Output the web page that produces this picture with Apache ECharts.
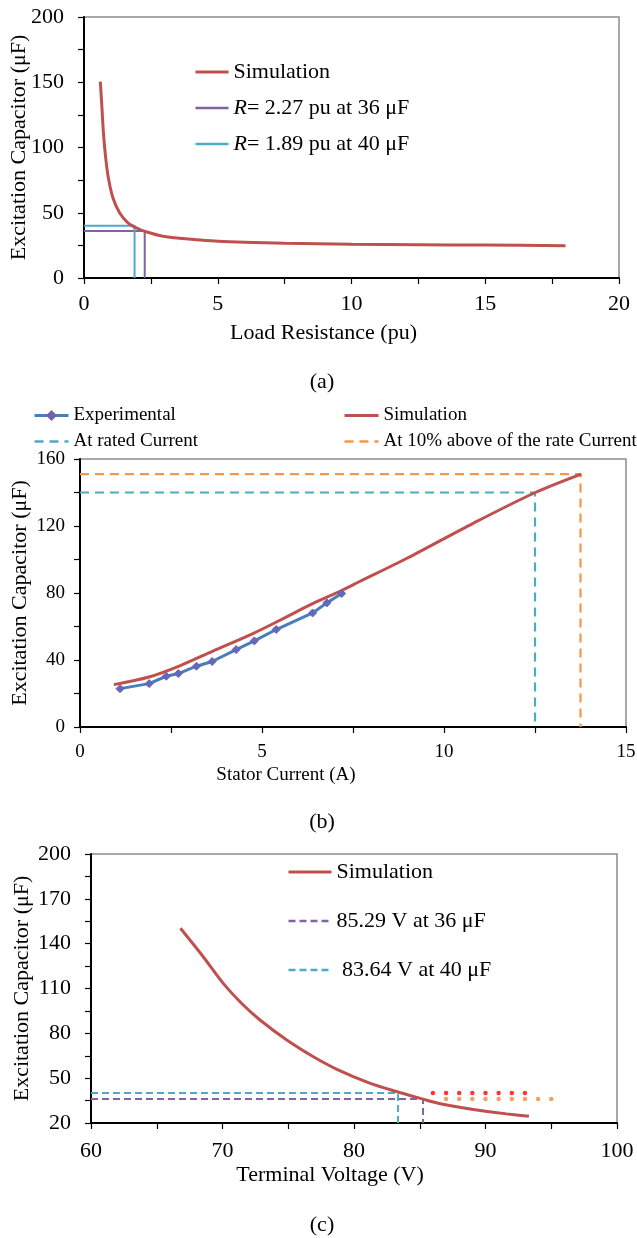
<!DOCTYPE html>
<html><head><meta charset="utf-8">
<script src="https://cdn.jsdelivr.net/npm/echarts@6/dist/echarts.min.js"></script>
<style>html,body{margin:0;padding:0;background:#fff}#c{width:637px;height:1238px}</style>
</head><body><div id="c"></div>
<script>
// ---- (a) Load resistance vs capacitor ----
const resA = [0.61, 0.67, 0.73, 0.81, 0.91, 1.08, 1.33, 1.64, 1.95, 2.32, 2.95, 4.19, 5.0, 6.0, 7.5, 10, 12.5, 15, 18];
const capA = [150.5, 130.8, 110.2, 92.3, 76.9, 61.5, 50, 42.3, 38.5, 35.4, 32, 29.3, 28.2, 27.4, 26.6, 25.9, 25.5, 25.2, 24.8];
const r36X = [0, 2.27, 2.27], r36Y = [36, 36, 0];
const r40X = [0, 1.89, 1.89], r40Y = [40, 40, 0];
const ticksA_x = [0, 5, 10, 15, 20];
const ticksA_y = [0, 50, 100, 150, 200];

// ---- (b) Stator current vs capacitor ----
const curExp = [1.10, 1.90, 2.37, 2.70, 3.20, 3.63, 4.29, 4.79, 5.39, 6.39, 6.78, 7.19];
const capExp = [22.9, 25.9, 30.3, 31.9, 36.3, 39.1, 46.2, 51.4, 58.2, 68.1, 74.1, 79.7];
const curSim = [0.93, 1.92, 2.74, 3.65, 4.75, 5.48, 6.39, 7.14, 7.67, 8.97, 10.8, 12.51, 13.77];
const capSim = [25.3, 30.0, 36.5, 45.3, 55.8, 63.6, 73.6, 81.0, 86.7, 100.6, 121.6, 140, 151];
const ratedX = [0, 12.5, 12.5], ratedY = [140, 140, 0];
const aboveX = [0, 13.75, 13.75], aboveY = [151, 151, 0];
const ticksB_x = [0, 5, 10, 15];
const ticksB_y = [0, 40, 80, 120, 160];

// ---- (c) Terminal voltage vs capacitor ----
const voltC = [66.8, 68.52, 70.04, 71.56, 72.83, 74.86, 76.88, 78.66, 81.19, 83.22, 85.25, 86.5, 88, 90, 91.6, 93.3];
const capC = [150.3, 131.4, 113.6, 99.1, 89.1, 75.7, 64.5, 56.1, 46.7, 41.1, 36.0, 33.0, 30.6, 27.9, 26.1, 24.5];
const v36X = [60, 85.25, 85.25], v36Y = [36, 36, 20];
const v40X = [60, 83.35, 83.35], v40Y = [40, 40, 20];
const redDotsX = [86, 87, 88, 89, 90, 91, 92, 93], redDotsY = 40;
const orgDotsX = [87, 88, 89, 90, 91, 92, 93, 94, 95], orgDotsY = 36;
const ticksC_x = [60, 70, 80, 90, 100];
const ticksC_y = [20, 50, 80, 110, 140, 170, 200];
const ticksC_yMinor = [20, 35, 50, 65, 80, 95, 110, 125, 140, 155, 170, 185, 200];

const FF = '"Liberation Serif", "Times New Roman", serif';
const zip = (xs, ys) => xs.map((x, i) => [x, Array.isArray(ys) ? ys[i] : ys]);

const RED = '#C0504D', PURPLE = '#8064A2', CYAN = '#4BACC6', ORANGE = '#F79646', BLUE = '#4A7EBB';

function xAx(gi, min, max, interval, labels, name, fs, margin, nameGap, padR) {
  return {
    gridIndex: gi, type: 'value', min, max, interval,
    axisLine: { onZero: false, lineStyle: { color: '#000', width: 2 } },
    axisTick: { show: true, length: 6, inside: false, lineStyle: { color: '#000', width: 1.2 } },
    splitLine: { show: false },
    axisLabel: { margin, fontSize: fs, color: '#000', fontFamily: FF,
      formatter: v => labels.includes(v) ? String(v) : '' },
    name, nameLocation: 'middle', nameGap, nameMoveOverlap: false,
    nameTextStyle: { fontSize: fs, color: '#000', fontFamily: FF, padding: [0, padR, 0, 0] }
  };
}
function yAx(gi, min, max, interval, labels, name, fs, nfs, margin, nameGap) {
  return {
    gridIndex: gi, type: 'value', min, max, interval,
    axisLine: { show: true, onZero: false, lineStyle: { color: '#000', width: 2 } },
    axisTick: { show: true, length: 6, inside: false, lineStyle: { color: '#000', width: 1.2 } },
    splitLine: { show: false },
    axisLabel: { margin, fontSize: fs, color: '#000', fontFamily: FF,
      formatter: v => labels.includes(v) ? String(v) : '' },
    name, nameLocation: 'middle', nameGap, nameMoveOverlap: false,
    nameTextStyle: { fontSize: nfs, color: '#000', fontFamily: FF }
  };
}

const xC = xAx(2, 60, 100, 5, ticksC_x, 'Terminal Voltage (V)', 22, 17, 41, 48);
const yC = yAx(2, 20, 200, 15, ticksC_y, 'Excitation Capacitor (μF)', 22, 22, 20, 58);
yC.axisTick.customValues = ticksC_yMinor;
yC.axisLabel.customValues = ticksC_y;
yC.axisLabel.formatter = v => String(v);
delete yC.interval;

const gridBase = { show: true, borderColor: '#8c8c8c', borderWidth: 1.5, outerBoundsMode: 'none', containLabel: false };
const noSym = (name, w) => ({ name, itemStyle: { opacity: 0 }, lineStyle: { width: w } });

const option = {
  animation: false,
  backgroundColor: '#fff',
  grid: [
    Object.assign({ left: 84, top: 17, width: 535, height: 261 }, gridBase),
    Object.assign({ left: 80, top: 459, width: 546, height: 268 }, gridBase),
    Object.assign({ left: 91, top: 854, width: 526, height: 269 }, gridBase)
  ],
  xAxis: [
    xAx(0, 0, 20, 2.5, ticksA_x, 'Load Resistance (pu)', 22, 15, 44, 56),
    xAx(1, 0, 15, 2.5, ticksB_x, 'Stator Current (A)', 19, 16, 39, 134),
    xC
  ],
  yAxis: [
    yAx(0, 0, 200, 25, ticksA_y, 'Excitation Capacitor (μF)', 22, 22, 20, 54),
    yAx(1, 0, 160, 20, ticksB_y, 'Excitation Capacitor (μF)', 19, 22, 15, 49),
    yC
  ],
  legend: [
    { left: 194, top: 61, padding: 0, orient: 'vertical', itemWidth: 33, itemHeight: 14, itemGap: 14,
      data: [noSym('Simulation', 3), noSym('R= 2.27 pu at 36 μF', 2.5), noSym('R= 1.89 pu at 40 μF', 2.5)],
      formatter: n => n.startsWith('R=') ? '{i|R}' + n.slice(1) : n,
      textStyle: { fontSize: 22, lineHeight: 22, color: '#000', fontFamily: FF,
        rich: { i: { fontStyle: 'italic', fontSize: 22, color: '#000', fontFamily: FF } } } },
    { left: 33, top: 406, padding: 0, orient: 'vertical', itemWidth: 34, itemHeight: 10, itemGap: 7,
      data: [{ name: 'Experimental', lineStyle: { width: 3 } }, noSym('At rated Current', 2.5)],
      textStyle: { fontSize: 19, lineHeight: 19, color: '#000', fontFamily: FF } },
    { left: 343, top: 406, padding: 0, orient: 'vertical', itemWidth: 34, itemHeight: 10, itemGap: 7,
      data: [noSym('Simulation', 3), noSym('At 10% above of the rate Current', 2.5)],
      textStyle: { fontSize: 19, lineHeight: 19, color: '#000', fontFamily: FF } },
    { left: 287, top: 861, padding: 0, orient: 'vertical', itemWidth: 43, itemHeight: 14, itemGap: 27,
      data: [noSym('Simulation', 3), noSym('85.29 V at 36 μF', 2.5), noSym(' 83.64 V at 40 μF', 2.5)],
      textStyle: { fontSize: 22, lineHeight: 22, color: '#000', fontFamily: FF } }
  ],
  graphic: [
    { type: 'text', x: 322, y: 382, style: { text: '(a)', font: '22px ' + FF, fill: '#000', align: 'center', verticalAlign: 'middle', textAlign: 'center', textVerticalAlign: 'middle' } },
    { type: 'text', x: 322, y: 822, style: { text: '(b)', font: '22px ' + FF, fill: '#000', align: 'center', verticalAlign: 'middle', textAlign: 'center', textVerticalAlign: 'middle' } },
    { type: 'text', x: 322, y: 1225, style: { text: '(c)', font: '22px ' + FF, fill: '#000', align: 'center', verticalAlign: 'middle', textAlign: 'center', textVerticalAlign: 'middle' } }
  ],
  series: [
    // (a)
    { type: 'line', name: 'R= 2.27 pu at 36 μF', xAxisIndex: 0, yAxisIndex: 0, data: zip(r36X, r36Y), symbol: 'none',
      lineStyle: { color: PURPLE, width: 2 }, itemStyle: { color: PURPLE } },
    { type: 'line', name: 'R= 1.89 pu at 40 μF', xAxisIndex: 0, yAxisIndex: 0, data: zip(r40X, r40Y), symbol: 'none',
      lineStyle: { color: CYAN, width: 2 }, itemStyle: { color: CYAN } },
    { type: 'line', name: 'Simulation', xAxisIndex: 0, yAxisIndex: 0, data: zip(resA, capA), symbol: 'none', smooth: 0.3,
      lineStyle: { color: RED, width: 3 }, itemStyle: { color: RED } },
    // (b)
    { type: 'line', name: 'At rated Current', xAxisIndex: 1, yAxisIndex: 1, data: zip(ratedX, ratedY), symbol: 'none',
      lineStyle: { color: CYAN, width: 2.2, type: [9, 6] }, itemStyle: { color: CYAN } },
    { type: 'line', name: 'At 10% above of the rate Current', xAxisIndex: 1, yAxisIndex: 1, data: zip(aboveX, aboveY), symbol: 'none',
      lineStyle: { color: ORANGE, width: 2.2, type: [9, 6] }, itemStyle: { color: ORANGE } },
    { type: 'line', name: 'Simulation', xAxisIndex: 1, yAxisIndex: 1, data: zip(curSim, capSim), symbol: 'none', smooth: 0.3,
      lineStyle: { color: RED, width: 3 }, itemStyle: { color: RED } },
    { type: 'line', name: 'Experimental', xAxisIndex: 1, yAxisIndex: 1, data: zip(curExp, capExp), symbol: 'diamond', symbolSize: 8,
      lineStyle: { color: BLUE, width: 3 }, itemStyle: { color: '#5A6CC0', borderColor: '#7A5CA6', borderWidth: 1 } },
    // (c)
    { type: 'line', name: '85.29 V at 36 μF', xAxisIndex: 2, yAxisIndex: 2, data: zip(v36X, v36Y), symbol: 'none',
      lineStyle: { color: PURPLE, width: 2, type: [7, 4] }, itemStyle: { color: PURPLE } },
    { type: 'line', name: ' 83.64 V at 40 μF', xAxisIndex: 2, yAxisIndex: 2, data: zip(v40X, v40Y), symbol: 'none',
      lineStyle: { color: CYAN, width: 2, type: [7, 4] }, itemStyle: { color: CYAN } },
    { type: 'line', name: 'Simulation', xAxisIndex: 2, yAxisIndex: 2, data: zip(voltC, capC), symbol: 'none', smooth: 0.3,
      lineStyle: { color: RED, width: 3 }, itemStyle: { color: RED } },
    { type: 'scatter', name: 'redDots', xAxisIndex: 2, yAxisIndex: 2, data: zip(redDotsX, redDotsY), symbol: 'circle', symbolSize: 4.5,
      itemStyle: { color: '#FF0000' } },
    { type: 'scatter', name: 'orangeDots', xAxisIndex: 2, yAxisIndex: 2, data: zip(orgDotsX, orgDotsY), symbol: 'circle', symbolSize: 4.5,
      itemStyle: { color: '#EE8A3C' } }
  ]
};

const chart = echarts.init(document.getElementById('c'), null, { renderer: 'canvas' });
chart.setOption(option);
</script></body></html>
